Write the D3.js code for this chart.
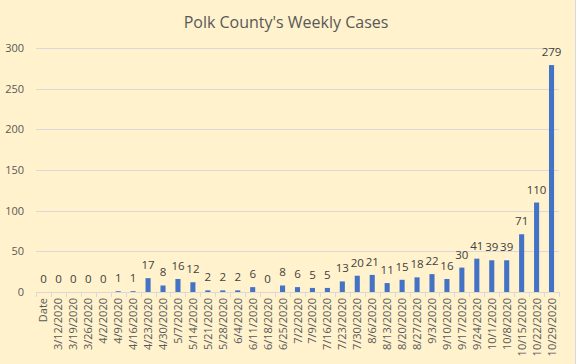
<!DOCTYPE html>
<html>
<head>
<meta charset="utf-8">
<script src="https://cdn.jsdelivr.net/npm/d3@7"></script>
<style>
  body { margin: 0; background: #FFF2CC; }
  svg { display: block; }
</style>
</head>
<body>
<div id="chart"></div>
<script>
// categories and weekly counts
var weeks = ["Date", "3/12/2020", "3/19/2020", "3/26/2020", "4/2/2020", "4/9/2020", "4/16/2020",
    "4/23/2020", "4/30/2020", "5/7/2020", "5/14/2020", "5/21/2020", "5/28/2020", "6/4/2020",
    "6/11/2020", "6/18/2020", "6/25/2020", "7/2/2020", "7/9/2020", "7/16/2020", "7/23/2020",
    "7/30/2020", "8/6/2020", "8/13/2020", "8/20/2020", "8/27/2020", "9/3/2020", "9/10/2020",
    "9/17/2020", "9/24/2020", "10/1/2020", "10/8/2020", "10/15/2020", "10/22/2020", "10/29/2020"];
var cases = [0, 0, 0, 0, 0, 1, 1, 17, 8, 16, 12, 2, 2, 2, 6, 0, 8, 6, 5, 5, 13, 20, 21, 11,
    15, 18, 22, 16, 30, 41, 39, 39, 71, 110, 279];
var yTicks = [0, 50, 100, 150, 200, 250, 300];

var W = 576, H = 364;
var margin = {top: 48, right: 17, bottom: 72, left: 36},
    width = W - margin.left - margin.right,
    height = H - margin.top - margin.bottom;

var svgRoot = d3.select("#chart")
    .append("svg")
    .attr("width", W)
    .attr("height", H);

svgRoot.append("rect")
    .attr("width", W).attr("height", H)
    .attr("fill", "#FFF2CC");

// faint sheet border on the right
svgRoot.append("line")
    .attr("x1", 575.5).attr("x2", 575.5)
    .attr("y1", 0).attr("y2", H)
    .attr("stroke", "#D9D9D9");

svgRoot.append("text")
    .attr("x", 286)
    .attr("y", 28)
    .attr("text-anchor", "middle")
    .attr("fill", "#595959")
    .style("font-family", "Open Sans")
    .style("font-size", "16px")
    .text("Polk County's Weekly Cases");

var svg = svgRoot.append("g")
    .attr("transform", "translate(" + margin.left + "," + margin.top + ")");

var x = d3.scaleBand()
    .domain(weeks)
    .range([0, width])
    .paddingInner(0.66)
    .paddingOuter(0.33);

var y = d3.scaleLinear()
    .domain([0, 300])
    .range([height, 0]);

// gridlines
svg.append("g")
    .selectAll("line")
    .data(yTicks.slice(1))
    .enter().append("line")
    .attr("x1", 0).attr("x2", width)
    .attr("y1", function(d) { return Math.round(y(d)) + 0.5; })
    .attr("y2", function(d) { return Math.round(y(d)) + 0.5; })
    .attr("stroke", "#D9D9D9");

// y labels
svg.append("g")
    .selectAll("text")
    .data(yTicks)
    .enter().append("text")
    .attr("x", -12)
    .attr("y", function(d) { return y(d) + 4; })
    .attr("text-anchor", "end")
    .attr("fill", "#595959")
    .style("font-family", "Open Sans")
    .style("font-size", "11px")
    .text(function(d) { return d; });

// bars
svg.selectAll(".bar")
    .data(cases)
    .enter().append("rect")
    .attr("class", "bar")
    .attr("x", function(d, i) { return x(weeks[i]); })
    .attr("width", x.bandwidth())
    .attr("y", function(d) { return y(d); })
    .attr("height", function(d) { return height - y(d); })
    .attr("fill", "#4472C4");

// value labels
svg.selectAll(".val")
    .data(cases)
    .enter().append("text")
    .attr("class", "val")
    .attr("x", function(d, i) { return x(weeks[i]) + x.bandwidth() / 2; })
    .attr("y", function(d) { return y(d) - 9; })
    .attr("text-anchor", "middle")
    .attr("fill", "#404040")
    .style("font-family", "Open Sans")
    .style("font-size", "11.5px")
    .text(function(d) { return d; });

// x axis line and ticks
var step = x.step();
svg.append("line")
    .attr("x1", 0).attr("x2", width)
    .attr("y1", height + 0.5).attr("y2", height + 0.5)
    .attr("stroke", "#D9D9D9");

svg.append("g")
    .selectAll("line")
    .data(d3.range(weeks.length + 1))
    .enter().append("line")
    .attr("x1", function(i) { return Math.round(i * step) + 0.5; })
    .attr("x2", function(i) { return Math.round(i * step) + 0.5; })
    .attr("y1", height).attr("y2", height + 5)
    .attr("stroke", "#D9D9D9");

// rotated category labels
svg.append("g")
    .selectAll("text")
    .data(weeks)
    .enter().append("text")
    .attr("transform", function(d) {
        return "translate(" + (x(d) + x.bandwidth() / 2 + 4) + "," + (height + 6) + ") rotate(-90)";
    })
    .attr("text-anchor", "end")
    .attr("fill", "#595959")
    .style("font-family", "Open Sans")
    .style("font-size", "11px")
    .text(function(d) { return d; });
</script>
</body>
</html>
